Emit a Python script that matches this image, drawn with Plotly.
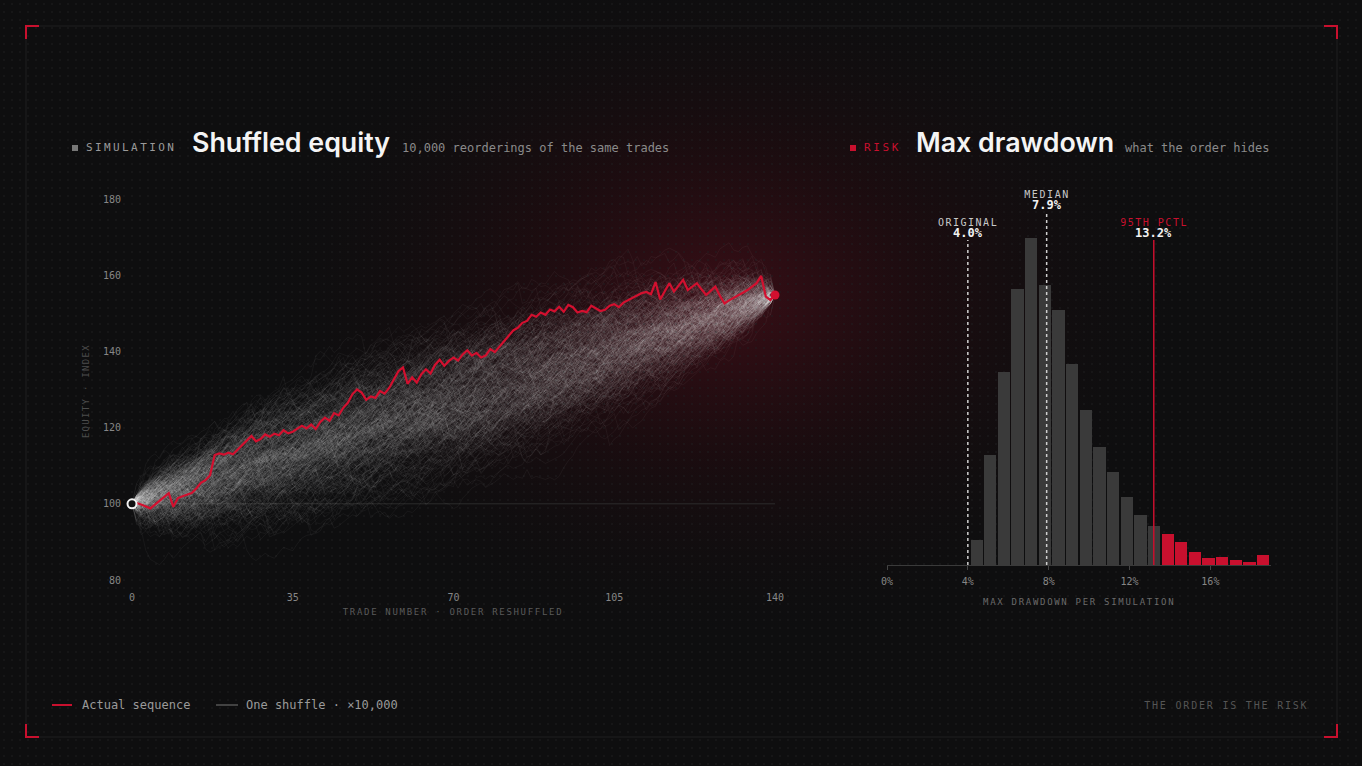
import base64
import json
import numpy as np
import plotly.graph_objects as go

# ---------------- data ----------------
trade_number = list(range(141))
actual_equity = [
    100.0, 100.2, 99.8, 99.3, 98.8, 99.8, 100.8, 101.8, 102.8, 99.2,
    101.5, 102.0, 102.3, 102.8, 104.0, 105.5, 106.2, 107.5, 112.8, 113.2,
    112.9, 113.4, 113.0, 114.2, 115.2, 116.5, 117.8, 116.4, 117.0, 118.2,
    117.6, 118.4, 118.0, 119.3, 118.5, 118.9, 119.6, 120.5, 119.8, 120.8,
    119.6, 121.5, 122.6, 121.8, 123.8, 123.2, 125.2, 126.5, 128.8, 130.0,
    129.2, 127.3, 128.2, 127.8, 129.6, 128.9, 130.4, 132.6, 134.8, 135.8,
    131.5, 133.2, 131.8, 134.0, 135.3, 134.2, 136.5, 137.8, 136.2, 137.5,
    138.4, 137.6, 139.2, 140.3, 138.9, 139.6, 138.4, 138.9, 140.6, 139.8,
    141.2, 142.6, 144.0, 145.5, 146.2, 147.5, 148.0, 149.6, 149.1, 150.2,
    149.6, 151.0, 150.5, 151.7, 150.4, 152.2, 151.6, 150.2, 150.6, 150.3,
    152.0, 151.4, 150.6, 150.9, 152.0, 152.4, 151.6, 152.8, 153.4, 154.0,
    154.7, 155.3, 155.6, 155.0, 158.2, 153.6, 155.8, 157.9, 155.7, 157.4,
    158.8, 156.1, 157.0, 157.9, 156.3, 154.8, 155.9, 157.0, 154.6, 152.6,
    153.4, 154.0, 154.8, 155.4, 156.1, 157.0, 157.9, 159.8, 154.4, 153.5,
    154.8,
]
equity_ticks = [80, 100, 120, 140, 160, 180]
trade_ticks = [0, 35, 70, 105, 140]
n_shuffles_drawn = 420

dd_bin_start = 4.1
dd_bin_width = 0.675
dd_counts = [109, 480, 843, 1205, 1428, 1223, 1114, 878, 677, 515, 406,
             297, 218, 170, 135, 100, 57, 31, 35, 22, 13, 44]
dd_original = 4.0
dd_median = 7.9
dd_p95 = 13.2
dd_ticks = [0, 4, 8, 12, 16]
dd_ticklabels = ["0%", "4%", "8%", "12%", "16%"]

# ---------------- helpers ----------------
W, H = 1362, 766
def px(x):
    return x / W
def py(y):
    return 1 - y / H

MONO = "DejaVu Sans Mono"
SANS = "Inter"
RED = "#c8102e"
BG = "#0e0e0f"

fig = go.Figure()

# ---- shuffled paths: deterministic reorderings (hash-ordered) of the same trade returns ----
returns = np.diff(np.array(actual_equity))
n = len(returns)

def mix(x):
    x &= 0xffffffff
    x = ((x ^ (x >> 16)) * 0x45d9f3b) & 0xffffffff
    x = ((x ^ (x >> 16)) * 0x45d9f3b) & 0xffffffff
    return x ^ (x >> 16)

for k in range(n_shuffles_drawn):
    keys = [mix(i * 1000003 + k * 7919 + 17) for i in range(n)]
    perm = np.argsort(keys)
    path = np.concatenate([[actual_equity[0]], actual_equity[0] + np.cumsum(returns[perm])])
    fig.add_trace(go.Scatter(
        x=trade_number, y=path, mode="lines",
        line=dict(color="rgba(230,230,230,0.075)", width=0.65),
        hoverinfo="skip", showlegend=False, xaxis="x", yaxis="y"))

# actual path
fig.add_trace(go.Scatter(
    x=trade_number, y=actual_equity, mode="lines",
    line=dict(color="#d3102f", width=2.2), hoverinfo="skip",
    showlegend=False, xaxis="x", yaxis="y"))
fig.add_trace(go.Scatter(
    x=[trade_number[0]], y=[actual_equity[0]], mode="markers",
    marker=dict(size=9, color="#111111", line=dict(color="#f2f2f2", width=2)),
    cliponaxis=False, hoverinfo="skip", showlegend=False, xaxis="x", yaxis="y"))
fig.add_trace(go.Scatter(
    x=[trade_number[-1]], y=[actual_equity[-1]], mode="markers",
    marker=dict(size=9, color="#d3102f"), cliponaxis=False,
    hoverinfo="skip", showlegend=False, xaxis="x", yaxis="y"))

# ---- histogram ----
centers = [dd_bin_start + (i + 0.5) * dd_bin_width for i in range(len(dd_counts))]
colors = [RED if (dd_bin_start + i * dd_bin_width) >= dd_p95 else "#3a3a3a"
          for i in range(len(dd_counts))]
fig.add_trace(go.Bar(
    x=centers, y=dd_counts, width=dd_bin_width * 0.9,
    marker=dict(color=colors, line=dict(width=0)),
    hoverinfo="skip", showlegend=False, xaxis="x2", yaxis="y2"))

# ---------------- background image (glow + dot grid) ----------------
svg = f"""<svg xmlns='http://www.w3.org/2000/svg' width='{W}' height='{H}' viewBox='0 0 {W} {H}'>
<defs>
<radialGradient id='g' cx='0' cy='0' r='1' gradientUnits='userSpaceOnUse' gradientTransform='translate(720 300) scale(480 350)'>
<stop offset='0' stop-color='#4c0e19' stop-opacity='0.7'/>
<stop offset='0.45' stop-color='#2c0a10' stop-opacity='0.42'/>
<stop offset='1' stop-color='#0e0e0f' stop-opacity='0'/>
</radialGradient>
<pattern id='d' width='8' height='8' patternUnits='userSpaceOnUse'>
<circle cx='4' cy='4' r='0.8' fill='#202022'/>
</pattern>
</defs>
<rect width='{W}' height='{H}' fill='{BG}'/>
<rect width='{W}' height='{H}' fill='url(#g)'/>
<rect width='{W}' height='{H}' fill='url(#d)'/>
</svg>"""
src = "data:image/svg+xml;base64," + base64.b64encode(svg.encode()).decode()

# ---------------- shapes ----------------
shapes = []
shapes.append(dict(type="rect", xref="paper", yref="paper", x0=px(26), x1=px(1337),
                   y0=py(737), y1=py(26), line=dict(color="#1e1e21", width=1), layer="below"))
def corner(points):
    d = "M " + " L ".join(f"{px(x)},{py(y)}" for x, y in points)
    return dict(type="path", xref="paper", yref="paper", path=d,
                line=dict(color=RED, width=2))
shapes += [
    corner([(26, 39), (26, 26), (39, 26)]),
    corner([(1324, 26), (1337, 26), (1337, 39)]),
    corner([(26, 724), (26, 737), (39, 737)]),
    corner([(1324, 737), (1337, 737), (1337, 724)]),
]
shapes.append(dict(type="rect", xref="paper", yref="paper", x0=px(72), x1=px(78),
                   y0=py(151), y1=py(145), fillcolor="#777777", line=dict(width=0)))
shapes.append(dict(type="rect", xref="paper", yref="paper", x0=px(850), x1=px(856),
                   y0=py(151), y1=py(145), fillcolor=RED, line=dict(width=0)))
shapes.append(dict(type="line", xref="paper", yref="paper", x0=px(52), x1=px(72),
                   y0=py(705), y1=py(705), line=dict(color=RED, width=2)))
shapes.append(dict(type="line", xref="paper", yref="paper", x0=px(216), x1=px(238),
                   y0=py(705), y1=py(705), line=dict(color="#555555", width=1.5)))
shapes.append(dict(type="line", xref="x", yref="y", x0=0, x1=140, y0=100, y1=100,
                   line=dict(color="#2c2c2c", width=1), layer="below"))
shapes.append(dict(type="line", xref="x2", yref="paper", x0=dd_original, x1=dd_original,
                   y0=py(565), y1=py(240), line=dict(color="#d0d0d0", width=1.5, dash="3px,3px")))
shapes.append(dict(type="line", xref="x2", yref="paper", x0=dd_median, x1=dd_median,
                   y0=py(565), y1=py(212), line=dict(color="#d0d0d0", width=1.5, dash="3px,3px")))
shapes.append(dict(type="line", xref="x2", yref="paper", x0=dd_p95, x1=dd_p95,
                   y0=py(565), y1=py(240), line=dict(color=RED, width=1.5)))

# ---------------- annotations ----------------
ann = []
def text(t, x, y, size, color, xanchor="left", family=MONO, weight=None, angle=0, xref="paper"):
    f = dict(family=family, size=size, color=color)
    if weight:
        f["weight"] = weight
    ann.append(dict(text=t, x=x if xref != "paper" else px(x), y=py(y), xref=xref, yref="paper",
                    xanchor=xanchor, yanchor="middle", showarrow=False, font=f,
                    align=xanchor if xanchor in ("left", "right") else "center",
                    textangle=angle))

text("SIMULATION", 84, 148, 11, "#9a9a9a")
text("Shuffled equity", 190, 142, 26.8, "#f4f4f4", family=SANS, weight=600)
text("10,000 reorderings of the same trades", 400, 148, 12, "#8a8a8a")
text("RISK", 862, 148, 11, RED)
text("Max drawdown", 914, 142, 26.8, "#f4f4f4", family=SANS, weight=600)
text("what the order hides", 1123, 148, 12, "#8a8a8a")

text("EQUITY · INDEX", 86, 391, 9, "#4c4c4c", xanchor="center", angle=-90)
text("TRADE NUMBER · ORDER RESHUFFLED", 453.5, 612, 9, "#5a5a5a", xanchor="center")
text("MAX DRAWDOWN PER SIMULATION", 1078.5, 602, 9, "#6a6a6a", xanchor="center")

text("ORIGINAL", dd_original, 222, 10, "#c8c8c8", xanchor="center", xref="x2")
text(f"{dd_original:.1f}%", dd_original, 233, 12, "#f2f2f2", xanchor="center", weight=700, xref="x2")
text("MEDIAN", dd_median, 194, 10, "#c8c8c8", xanchor="center", xref="x2")
text(f"{dd_median:.1f}%", dd_median, 205, 12, "#f2f2f2", xanchor="center", weight=700, xref="x2")
text("95TH PCTL", dd_p95, 222, 10, RED, xanchor="center", xref="x2")
text(f"{dd_p95:.1f}%", dd_p95, 233, 12, "#f2f2f2", xanchor="center", weight=700, xref="x2")

text("Actual sequence", 80, 705, 12, "#9a9a9a")
text("One shuffle · ×10,000", 244, 705, 12, "#9a9a9a")
text("THE ORDER IS THE RISK", 1310, 705, 10, "#555555", xanchor="right")

tickfont = dict(family=MONO, size=10, color="#868686")

fig.update_layout(
    template="none",
    width=W, height=H, autosize=False,
    margin=dict(l=0, r=0, t=0, b=0, pad=0, autoexpand=False),
    paper_bgcolor=BG, plot_bgcolor="rgba(0,0,0,0)",
    showlegend=False, hovermode=False,
    bargap=0,
    images=[dict(source=src, xref="paper", yref="paper", x=0, y=1, sizex=1, sizey=1,
                 xanchor="left", yanchor="top", sizing="stretch", layer="below")],
    shapes=shapes, annotations=ann,
    xaxis=dict(domain=[px(132), px(775)], range=[0, 140], tickvals=trade_ticks,
               showgrid=False, zeroline=False, showline=False, ticks="", automargin=False,
               tickfont=tickfont, ticklabelstandoff=10, fixedrange=True),
    yaxis=dict(domain=[py(580), py(199)], range=[80, 180], tickvals=equity_ticks,
               showgrid=False, zeroline=False, showline=False, ticks="", automargin=False,
               tickfont=tickfont, ticklabelstandoff=10, fixedrange=True),
    xaxis2=dict(domain=[px(887), px(1271)], range=[0, 19], tickvals=dd_ticks,
                ticktext=dd_ticklabels, showgrid=False, zeroline=False, automargin=False,
                showline=True, linecolor="#3a3a3a", linewidth=1,
                ticks="outside", ticklen=4, tickcolor="#444444", tickwidth=1,
                tickfont=tickfont, ticklabelstandoff=3, anchor="y2", fixedrange=True),
    yaxis2=dict(domain=[py(565), py(190)], range=[0, 1638], visible=False, automargin=False,
                anchor="x2", fixedrange=True),
)

spacing = {
    "SIMULATION": 2.4, "RISK": 2.6, "THE ORDER IS THE RISK": 1.8,
    "TRADE NUMBER · ORDER RESHUFFLED": 1.7, "EQUITY · INDEX": 1.3,
    "MAX DRAWDOWN PER SIMULATION": 1.7, "ORIGINAL": 1.5, "MEDIAN": 1.6,
    "95TH PCTL": 1.5,
}
post = ("var m=" + json.dumps(spacing, ensure_ascii=False) + ";"
        "document.querySelectorAll('text').forEach(function(t){"
        "var s=t.textContent; if(m.hasOwnProperty(s)){t.style.letterSpacing=m[s]+'px';}});")

fig.write_html("out.html", config={"displayModeBar": False, "staticPlot": True},
               post_script=post)
